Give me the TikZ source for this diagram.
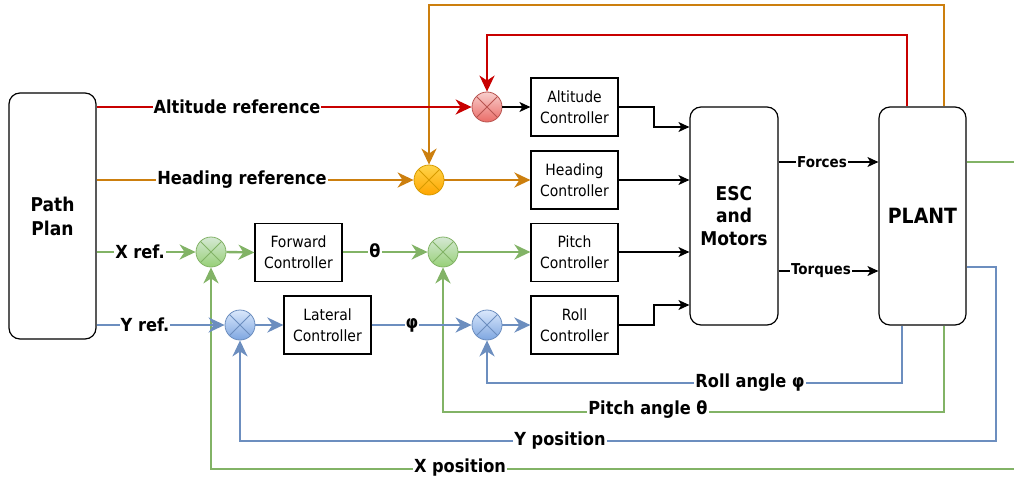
\documentclass[tikz,border=0pt]{standalone}
\usepackage{fontspec}
\newfontfamily\cf{DejaVu Sans Condensed}
\usetikzlibrary{arrows.meta,calc}
\definecolor{redl}{HTML}{C80000}
\definecolor{orl}{HTML}{CC7F0E}
\definecolor{grl}{HTML}{82B366}
\definecolor{bll}{HTML}{6C8EBF}
\definecolor{rtopc}{HTML}{F8CECC}
\definecolor{rbotc}{HTML}{EA6B66}
\definecolor{rdrc}{HTML}{B85450}
\definecolor{otopc}{HTML}{FFD54A}
\definecolor{obotc}{HTML}{FFA500}
\definecolor{odrc}{HTML}{D79B00}
\definecolor{gtopc}{HTML}{D5E8D4}
\definecolor{gbotc}{HTML}{97D077}
\definecolor{gdrc}{HTML}{82B366}
\definecolor{btopc}{HTML}{DAE8FC}
\definecolor{bbotc}{HTML}{7EA6E0}
\definecolor{bdrc}{HTML}{6C8EBF}
\tikzset{
  ctip/.style={-{Stealth[length=16pt,width=15pt,inset=5pt]}},
  cline/.style={line width=2.4pt,ctip},
  pline/.style={line width=2.4pt},
  blk/.style={line width=1.1pt,black,-{Stealth[length=11pt,width=10pt,inset=3pt]}},
  ctrl/.style={draw,line width=1.2pt,minimum width=87pt,minimum height=58pt,align=center,
    font=\cf\fontsize{15.5}{21}\selectfont,inner sep=0pt},
  bigbox/.style={draw,line width=1.2pt,rounded corners=11pt,minimum width=87pt,align=center,inner sep=0pt},
  lbl/.style={fill=white,inner sep=1pt,font=\cf\bfseries\fontsize{18}{20}\selectfont},
  slbl/.style={fill=white,inner sep=1pt,font=\cf\bfseries\fontsize{15}{17}\selectfont},
  sumnode/.style n args={3}{circle,minimum size=30pt,inner sep=0pt,draw=#3,line width=0.8pt,
    top color=#1,bottom color=#2,
    path picture={\draw[#3,line width=0.8pt]
      (path picture bounding box.north west)--(path picture bounding box.south east)
      (path picture bounding box.north east)--(path picture bounding box.south west);}},
}
\begin{document}
\begin{tikzpicture}[x=1pt,y=-1pt]
\useasboundingbox (0,0) rectangle (1014,479);
% main blocks
\node[bigbox,minimum height=246pt,font=\cf\bfseries\fontsize{19}{24}\selectfont] (pp) at (52.5,216) {Path\\Plan};
\node[bigbox,minimum height=218pt,minimum width=88pt,font=\cf\bfseries\fontsize{19}{22.5}\selectfont] (esc) at (734,216) {ESC\\and\\Motors};
\node[bigbox,minimum height=218pt,font=\cf\bfseries\fontsize{21}{24}\selectfont] (plant) at (922.5,216) {PLANT};
% controllers
\node[ctrl] (alt) at (574.5,107) {Altitude\\Controller};
\node[ctrl] (head) at (574.5,180) {Heading\\Controller};
\node[ctrl] (pitch) at (574.5,252.5) {Pitch\\Controller};
\node[ctrl] (roll) at (574.5,325) {Roll\\Controller};
\node[ctrl] (fwd) at (298.5,252.5) {Forward\\Controller};
\node[ctrl] (lat) at (327.5,325) {Lateral\\Controller};
% sums
\node[sumnode={rtopc}{rbotc}{rdrc}] (sumA) at (487,107) {};
\node[sumnode={otopc}{obotc}{odrc}] (sumH) at (429,180) {};
\node[sumnode={gtopc}{gbotc}{gdrc}] (sumX) at (211,252) {};
\node[sumnode={gtopc}{gbotc}{gdrc}] (sumP) at (443,252) {};
\node[sumnode={btopc}{bbotc}{bdrc}] (sumY) at (240,325) {};
\node[sumnode={btopc}{bbotc}{bdrc}] (sumR) at (487,325) {};
\coordinate (rtop) at (487,35);
\coordinate (otop) at (429,5);
\coordinate (edgeG) at (1014,162);
\coordinate (edgeX) at (1014,469);
% feedback loops (drawn first)
\draw[cline,redl] (plant.north -| 907,0) |- (rtop) -- (sumA.north);
\draw[cline,orl] (plant.north -| 944,0) |- (otop) -- (sumH.north);
\draw[pline,grl] (plant.east |- 0,162) -- (edgeG);
\draw[cline,bll] (plant.east |- 0,267) -| (996,441) -| (sumY.south);
\draw[cline,bll] (plant.south -| 902,0) |- (487,383) -- (sumR.south);
\draw[cline,grl] (plant.south -| 944,0) |- (443,412) -- (sumP.south);
\draw[cline,grl] (edgeX) -| (sumX.south);
% forward paths
\draw[cline,redl] (pp.east |- 0,107) -- (sumA.west);
\draw[cline,orl] (pp.east |- 0,180) -- (sumH.west);
\draw[cline,orl] (sumH.east) -- (head.west);
\draw[blk] (sumA.east) -- (alt.west);
\draw[cline,grl] (pp.east |- 0,252) -- (sumX.west);
\draw[cline,grl] (sumX.east) -- (fwd.west);
\draw[cline,grl] (fwd.east |- 0,252) -- (sumP.west);
\draw[cline,grl] (sumP.east) -- (pitch.west |- 0,252);
\draw[cline,bll] (pp.east |- 0,325) -- (sumY.west);
\draw[cline,bll] (sumY.east) -- (lat.west);
\draw[cline,bll] (lat.east) -- (sumR.west);
\draw[cline,bll] (sumR.east) -- (roll.west);
% controller outputs
\draw[blk] (alt.east) -| (654,117) |- (esc.west |- 0,127);
\draw[blk] (head.east) -- (head.east -| esc.west);
\draw[blk] (pitch.east |- 0,252) -- (esc.west |- 0,252);
\draw[blk] (roll.east) -| (654,315) |- (esc.west |- 0,305);
\draw[blk] (esc.east |- 0,162) -- (plant.west |- 0,162);
\draw[blk] (esc.east |- 0,271) -- (plant.west |- 0,271);
% labels
\node[lbl] (lAlt) at (237,107) {Altitude reference};
\node[lbl] (lHead) at (242,180) {Heading reference};
\node[lbl] (lX) at (140,252) {X ref.};
\node[lbl] (lY) at (145,325) {Y ref.};
\node[lbl] (lth) at (375,251) {θ};
\node[lbl] (lph) at (412,325) {φ};
\node[lbl] (lRoll) at (750,383) {Roll angle φ};
\node[lbl] (lPitch) at (648,410) {Pitch angle θ};
\node[lbl] (lYp) at (560,441) {Y position};
\node[lbl] (lXp) at (460,468) {X position};
\node[slbl] (lF) at (822,162) {Forces};
\node[slbl] (lT) at (821,271) {Torques};
\end{tikzpicture}
\end{document}
